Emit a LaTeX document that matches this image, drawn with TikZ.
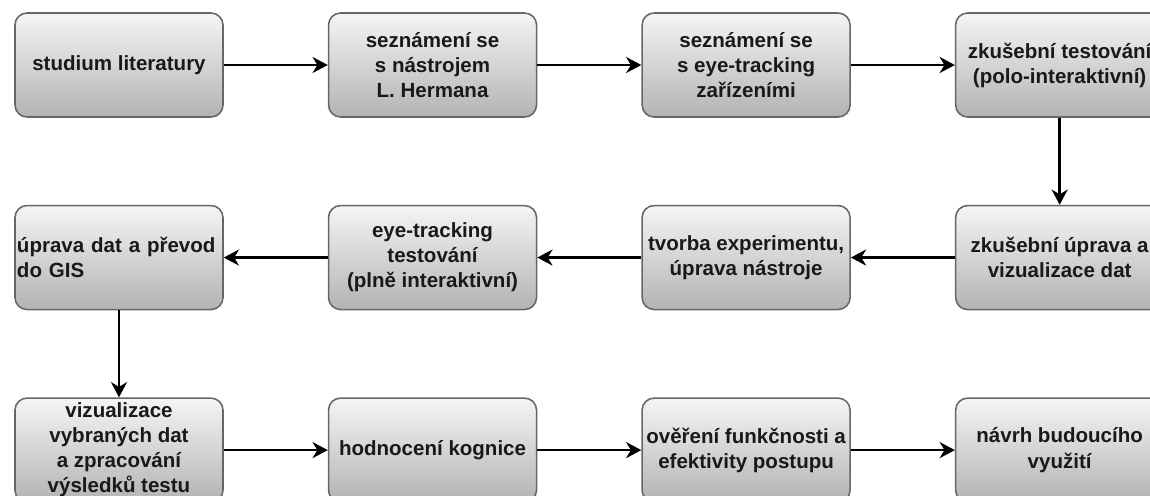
\documentclass[tikz,border=0pt]{standalone}
\usepackage{fontspec}
\setmainfont{Liberation Sans}
\usetikzlibrary{positioning,arrows.meta}
\definecolor{boxtop}{HTML}{F5F5F5}
\definecolor{boxbottom}{HTML}{B3B3B3}
\definecolor{boxline}{HTML}{666666}

\begin{document}
\begin{tikzpicture}[
  font=\bfseries\fontsize{14.6}{17.8}\selectfont,
  stage/.style={draw=boxline, rounded corners=3mm, align=center, minimum width=52mm,
                minimum height=26mm, line width=1.1pt, top color=boxtop,
                bottom color=boxbottom, inner sep=0.5mm, text=black!90},
  flow/.style={-{Stealth[length=3.8mm, width=4mm, inset=1.2mm]}, line width=1.9pt},
  node distance=21.75mm and 26mm,
]
  \useasboundingbox (0,0) rectangle (287.5mm,-123.75mm);
  \clip (0,0) rectangle (287.5mm,-123.75mm);

  % first row, left to right
  \node[stage] (lit) at (29.75mm,-16.25mm) {studium literatury};
  \node[stage, right=of lit] (herm) {seznámení se\\s nástrojem\\L. Hermana};
  \node[stage, right=of herm] (eye) {seznámení se\\s eye-tracking\\zařízeními};
  \node[stage, right=of eye] (ztest) {zkušební testování\\(polo-interaktivní)};

  % second row, right to left
  \node[stage, below=of ztest] (zupr) {zkušební úprava a\\vizualizace dat};
  \node[stage, left=of zupr] (tvorba) {tvorba experimentu,\\úprava nástroje};
  \node[stage, left=of tvorba] (ettest) {eye-tracking\\testování\\(plně interaktivní)};
  \node[stage, left=of ettest, text width=51mm, align=left] (gis) {úprava dat a převod\\do GIS};

  % third row, left to right
  \node[stage, below=of gis] (viz) {vizualizace\\vybraných dat\\a zpracování\\výsledků testu};
  \node[stage, right=of viz] (kogn) {hodnocení kognice};
  \node[stage, right=of kogn] (over) {ověření funkčnosti a\\efektivity postupu};
  \node[stage, right=of over] (navrh) {návrh budoucího\\využití};

  \foreach \a/\b in {lit/herm, herm/eye, eye/ztest, ztest/zupr, zupr/tvorba,
                     tvorba/ettest, ettest/gis, gis/viz, viz/kogn, kogn/over, over/navrh}
    \draw[flow] (\a) -- (\b);
\end{tikzpicture}
\end{document}
